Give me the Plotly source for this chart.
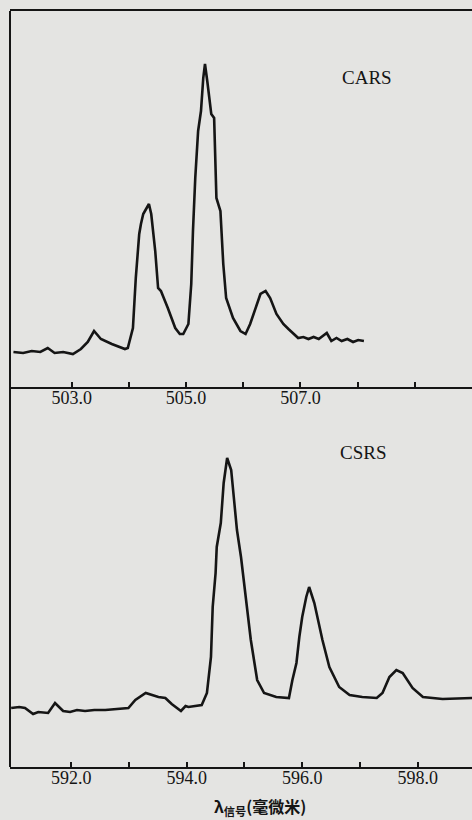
import plotly.graph_objects as go

# CARS spectrum (upper panel): wavelength (nm) and relative intensity
cars_wl = [501.98, 502.15, 502.30, 502.45, 502.58, 502.70, 502.85, 503.02, 503.16, 503.28,
           503.39, 503.51, 503.70, 503.93, 503.98, 504.07, 504.12, 504.18, 504.21, 504.25,
           504.30, 504.35, 504.39, 504.46, 504.51, 504.56, 504.68, 504.81, 504.89, 504.95,
           505.04, 505.09, 505.12, 505.16, 505.21, 505.26, 505.30, 505.33, 505.37, 505.44,
           505.49, 505.53, 505.60, 505.65, 505.70, 505.82, 505.95, 506.04, 506.12, 506.21,
           506.30, 506.39, 506.47, 506.58, 506.70, 506.79, 506.96, 507.05, 507.14, 507.23,
           507.32, 507.46, 507.54, 507.63, 507.72, 507.82, 507.92, 508.01, 508.11]
cars_int = [35, 34, 36, 35, 39, 34, 35, 33, 38, 45,
            56, 48, 43, 38, 39, 59, 109, 153, 163, 173,
            178, 183, 173, 136, 99, 96, 79, 59, 53, 53,
            63, 103, 156, 209, 256, 276, 309, 323, 306, 273,
            269, 189, 176, 123, 89, 69, 56, 53, 63, 79,
            93, 96, 89, 73, 63, 58, 49, 50, 48, 50,
            48, 54, 46, 49, 46, 48, 45, 47, 46]

# CSRS spectrum (lower panel)
csrs_wl = [590.96, 591.10, 591.20, 591.34, 591.43, 591.60, 591.72, 591.86, 591.98, 592.10,
           592.24, 592.40, 592.59, 592.80, 592.99, 593.11, 593.29, 593.51, 593.63, 593.74,
           593.90, 593.98, 594.03, 594.26, 594.35, 594.42, 594.45, 594.50, 594.52, 594.59,
           594.64, 594.70, 594.77, 594.82, 594.87, 594.94, 595.03, 595.11, 595.22, 595.34,
           595.55, 595.77, 595.83, 595.90, 595.95, 596.00, 596.07, 596.12, 596.21, 596.26,
           596.35, 596.47, 596.64, 596.82, 597.04, 597.29, 597.39, 597.51, 597.63, 597.74,
           597.91, 598.09, 598.43, 598.94]
csrs_int = [59, 60, 59, 53, 55, 54, 64, 56, 55, 57,
            56, 57, 57, 58, 59, 67, 74, 70, 69, 63,
            56, 61, 60, 62, 74, 110, 160, 194, 220, 244,
            284, 309, 297, 267, 237, 210, 164, 127, 87, 74,
            70, 69, 87, 104, 130, 150, 170, 180, 164, 150,
            127, 100, 80, 72, 70, 69, 74, 90, 97, 94,
            79, 70, 68, 69]

cars_ticks = [503, 504, 505, 506, 507, 508, 509]
cars_ticktext = ["503.0", "", "505.0", "", "507.0", "", ""]
csrs_ticks = [592, 593, 594, 595, 596, 597, 598]
csrs_ticktext = ["592.0", "", "594.0", "", "596.0", "", "598.0"]

W, H = 472, 820
bg = "#e4e4e2"
ink = "#151515"
x0 = 10 / W

fig = go.Figure()
fig.add_trace(go.Scatter(x=cars_wl, y=cars_int, mode="lines",
                         line=dict(color=ink, width=2.6), xaxis="x", yaxis="y",
                         showlegend=False, hoverinfo="skip"))
fig.add_trace(go.Scatter(x=csrs_wl, y=csrs_int, mode="lines",
                         line=dict(color=ink, width=2.6), xaxis="x2", yaxis="y2",
                         showlegend=False, hoverinfo="skip"))

tickfont = dict(family="Liberation Serif", size=18, color=ink)
fig.update_layout(
    width=W, height=H,
    margin=dict(l=0, r=0, t=0, b=0),
    paper_bgcolor=bg, plot_bgcolor=bg,
    xaxis=dict(domain=[x0, 1], range=[501.92, 510.0], showgrid=False, zeroline=False,
               showline=True, mirror=True, linecolor=ink, linewidth=2,
               tickvals=cars_ticks, ticktext=cars_ticktext, ticks="inside",
               ticklen=5, tickwidth=1.5, tickcolor=ink, tickfont=tickfont,
               ticklabelstandoff=-7, anchor="y"),
    yaxis=dict(domain=[(H - 387) / H, (H - 11) / H], range=[0, 376],
               showgrid=False, zeroline=False, showline=False, showticklabels=False,
               anchor="x"),
    xaxis2=dict(domain=[x0, 1], range=[590.94, 598.94], showgrid=False, zeroline=False,
                showline=True, linecolor=ink, linewidth=2,
                tickvals=csrs_ticks, ticktext=csrs_ticktext, ticks="inside",
                ticklen=5, tickwidth=1.5, tickcolor=ink, tickfont=tickfont,
                ticklabelstandoff=-7, anchor="y2"),
    yaxis2=dict(domain=[(H - 767) / H, (H - 398) / H], range=[0, 369],
                showgrid=False, zeroline=False, showline=False, showticklabels=False,
                anchor="x2"),
    shapes=[dict(type="line", xref="paper", yref="paper", x0=x0, x1=x0,
                 y0=(H - 767) / H, y1=(H - 11) / H,
                 line=dict(color=ink, width=2))],
    annotations=[
        dict(text="CARS", xref="paper", yref="paper", x=367 / W, y=(H - 78) / H,
             xanchor="center", yanchor="middle", showarrow=False,
             font=dict(family="Liberation Serif", size=19, color=ink)),
        dict(text="CSRS", xref="paper", yref="paper", x=363 / W, y=(H - 452) / H,
             xanchor="center", yanchor="middle", showarrow=False,
             font=dict(family="Liberation Serif", size=19, color=ink)),
        dict(text="<b>λ<sub>信号</sub>(毫微米)</b>", xref="paper", yref="paper",
             x=260 / W, y=(H - 806) / H, xanchor="center", yanchor="middle",
             showarrow=False,
             font=dict(family="Noto Sans CJK SC", size=16, color=ink)),
    ],
)

fig.write_html("out.html", config={"displayModeBar": False},
               post_script="document.body.style.margin='0';document.body.style.overflow='hidden';")
